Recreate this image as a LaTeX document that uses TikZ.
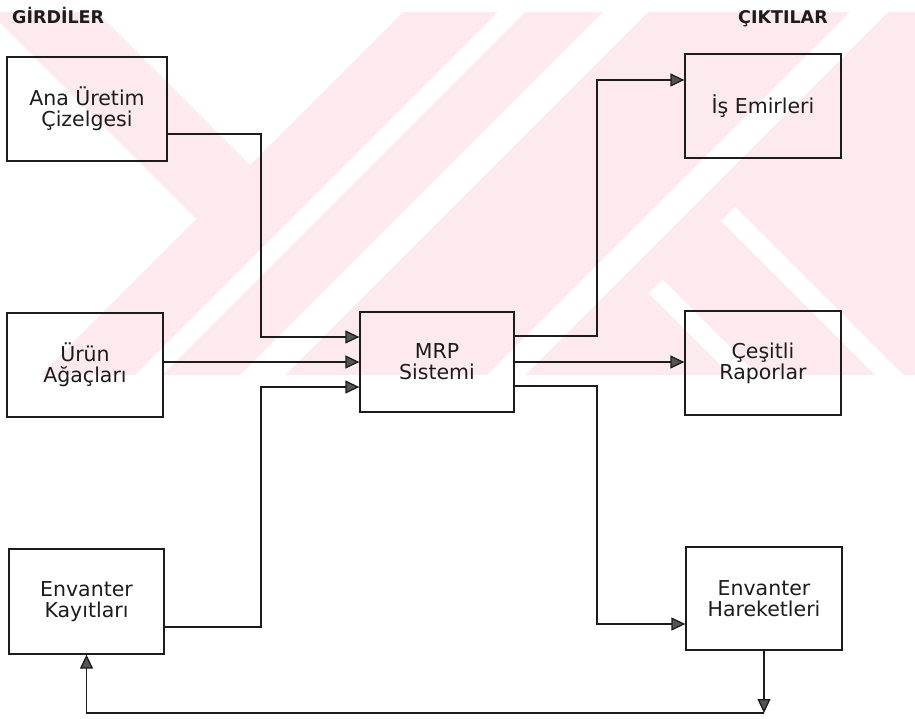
\documentclass[tikz,border=0pt]{standalone}
\usepackage{fontspec}
\setmainfont{DejaVu Sans}[BoldFont={DejaVu Sans Bold}]
\usetikzlibrary{arrows.meta}
\definecolor{ink}{RGB}{28,28,28}
\definecolor{wmpink}{RGB}{252,234,238}
\newcommand{\headtext}[1]{{\fontsize{17.5}{17.5}\selectfont\bfseries #1}}
\tikzset{
  box/.style={draw=ink, line width=1.3pt, rectangle, align=center, inner sep=0pt,
    text=ink, font=\fontsize{20.5}{21}\selectfont},
  heading/.style={anchor=base west, inner sep=0pt, text=ink},
  flow/.style={draw=ink, line width=1.3pt,
    -{Triangle[length=14pt,width=13pt,fill=ink!75]}},
  wm/.style={fill=wmpink, draw=none},
  wmcut/.style={fill=white, draw=none}
}
\begin{document}
\begin{tikzpicture}[x=1pt,y=-1pt]
\useasboundingbox (0,0) rectangle (915,719);
\fill[white] (0,0) rectangle (915,719);

% faint background emblem: a striped X
\begin{scope}
\clip (0,12) rectangle (915,375);
\fill[wm] (0,12) rectangle (915,375);
% upper and left notches of the X
\fill[wmcut] (97,12) -- (403,12) -- (250,165) -- cycle;
\fill[wmcut] (-11,12) -- (196,219) -- (40,375) -- (-11,375) -- cycle;
% white bars across the rising arm
\fill[wmcut] (498,12) -- (525,12) -- (162,375) -- (135,375) -- cycle;
\fill[wmcut] (603,12) -- (648,12) -- (285,375) -- (240,375) -- cycle;
\fill[wmcut] (850,12) -- (888,12) -- (525,375) -- (487,375) -- cycle;
% white bars across the lower right arm
\fill[wmcut] (735,207) -- (903,375) -- (875,375) -- (721,221) -- cycle;
\fill[wmcut] (662.5,279.5) -- (758,375) -- (730,375) -- (648.5,293.5) -- cycle;
\end{scope}

% column headings
\node[heading] (hin) at (12,24) {\headtext{GİRDİLER}};
\node[heading] (hout) at (738,24) {\headtext{ÇIKTILAR}};

% inputs
\node[box, minimum width=160pt, minimum height=104pt] (A) at (87,109) {Ana Üretim\\Çizelgesi};
\node[box, minimum width=156pt, minimum height=104pt] (B) at (85,365) {Ürün\\Ağaçları};
\node[box, minimum width=155pt, minimum height=105pt] (C) at (86.5,601.5) {Envanter\\Kayıtları};

% system
\node[box, minimum width=154pt, minimum height=100pt] (M) at (437,362) {MRP\\Sistemi};

% outputs
\node[box, minimum width=156pt, minimum height=104pt] (W) at (763,106) {İş Emirleri};
\node[box, minimum width=156pt, minimum height=104pt] (R) at (763,363) {Çeşitli\\Raporlar};
\node[box, minimum width=156pt, minimum height=103pt] (H) at (764,598.5) {Envanter\\Hareketleri};

% ports on the box sides
\coordinate (aout) at ([yshift=-25pt]A.east);
\coordinate (bout) at (B.east |- M.west);
\coordinate (cout) at ([yshift=-25.5pt]C.east);
\coordinate (min1) at ([yshift=25pt]M.west);
\coordinate (min3) at ([yshift=-25pt]M.west);
\coordinate (mout1) at ([yshift=26pt]M.east);
\coordinate (mout3) at ([yshift=-24pt]M.east);
\coordinate (win) at ([yshift=26pt]W.west);
\coordinate (hin2) at ([yshift=-25.5pt]H.west);

% bend points
\coordinate (xin) at (261,0);
\coordinate (xout) at (597,0);
\coordinate (fb) at (H.south |- 0,713);

% inputs into the system
\draw[flow] (aout) -| (xin |- min1) -- (min1);
\draw[flow] (bout) -- (M.west);
\draw[flow] (cout) -| (xin |- min3) -- (min3);

% outputs of the system
\draw[flow] (mout1) -| (xout |- win) -- (win);
\draw[flow] (M.east) -- (M.east -| R.west);
\draw[flow] (mout3) -| (xout |- hin2) -- (hin2);

% feedback to inventory records
\draw[flow] (H.south) -- (fb);
\draw[flow] (fb) -| (C.south);
\end{tikzpicture}
\end{document}
